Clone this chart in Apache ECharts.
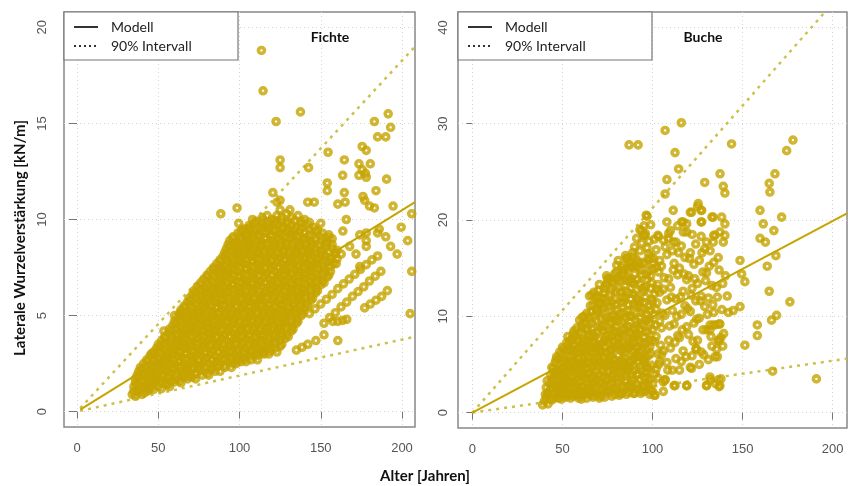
<!DOCTYPE html>
<html><head><meta charset="utf-8">
<script src="https://cdn.jsdelivr.net/npm/echarts@6/dist/echarts.min.js"></script>
<style>html,body{margin:0;padding:0;background:#fff}#c{width:848px;height:486px}</style>
</head><body><div id="c"></div>
<script>
// ---- tick labels ----
const xTicks = [0, 50, 100, 150, 200];
const fichteYTicks = [0, 5, 10, 15, 20];
const bucheYTicks = [0, 10, 20, 30, 40];
const panelTitles = ['Fichte', 'Buche'];
const legendLabels = ['Modell', '90% Intervall'];

// ---- Fichte: dense core of the point cloud (Alter, kN/m) ----
const fichteDense = [
[34,0.9],[36,0.8],[38,1.0],[40,0.9],[42,1.0],[37,1.1],[44,1.1],
[35,1.3],[37,1.4],[40,1.3],[42,1.4],[45,1.2],[47,1.4],[50,1.3],[52,1.2],[55,1.4],[57,1.3],[46,1.5],
[36,1.7],[38,1.8],[41,1.6],[43,1.8],[46,1.7],[48,1.8],[51,1.6],[53,1.7],[56,1.8],[58,1.6],[61,1.7],[63,1.6],[66,1.8],[68,1.7],[71,1.8],[73,1.7],
[38,2.1],[40,2.2],[43,2.0],[45,2.2],[48,2.1],[50,2.0],[53,2.2],[55,2.1],[58,2.0],[60,2.2],[63,2.1],[65,2.0],[68,2.2],[70,2.1],[73,2.0],[75,2.2],[78,2.1],[80,2.0],[83,2.2],[85,2.1],[88,2.1],
[41,2.5],[43,2.6],[46,2.4],[48,2.6],[51,2.5],[53,2.4],[56,2.6],[58,2.5],[61,2.4],[63,2.6],[66,2.5],[68,2.4],[71,2.6],[73,2.5],[76,2.4],[78,2.6],[81,2.5],[83,2.4],[86,2.6],[88,2.5],[91,2.4],[93,2.6],[96,2.5],[98,2.5],[101,2.6],[104,2.6],
[45,2.9],[47,3.0],[50,2.8],[52,3.0],[55,2.9],[57,2.8],[60,3.0],[62,2.9],[65,2.8],[67,3.0],[70,2.9],[72,2.8],[75,3.0],[77,2.9],[80,2.8],[82,3.0],[85,2.9],[87,2.8],[90,3.0],[92,2.9],[95,2.8],[97,3.0],[100,2.9],[102,2.8],[105,3.0],[107,2.9],[110,2.9],[112,3.0],[115,3.0],[118,3.0],
[49,3.3],[51,3.4],[54,3.2],[56,3.4],[59,3.3],[61,3.2],[64,3.4],[66,3.3],[69,3.2],[71,3.4],[74,3.3],[76,3.2],[79,3.4],[81,3.3],[84,3.2],[86,3.4],[89,3.3],[91,3.2],[94,3.4],[96,3.3],[99,3.2],[101,3.4],[104,3.3],[106,3.2],[109,3.4],[111,3.3],[114,3.2],[116,3.4],[119,3.3],[122,3.3],[125,3.4],
[52,3.7],[54,3.8],[57,3.6],[59,3.8],[62,3.7],[64,3.6],[67,3.8],[69,3.7],[72,3.6],[74,3.8],[77,3.7],[79,3.6],[82,3.8],[84,3.7],[87,3.6],[89,3.8],[92,3.7],[94,3.6],[97,3.8],[99,3.7],[102,3.6],[104,3.8],[107,3.7],[109,3.6],[112,3.8],[114,3.7],[117,3.6],[119,3.8],[122,3.7],[125,3.7],[128,3.8],
[56,4.1],[58,4.2],[61,4.0],[63,4.2],[66,4.1],[68,4.0],[71,4.2],[73,4.1],[76,4.0],[78,4.2],[81,4.1],[83,4.0],[86,4.2],[88,4.1],[91,4.0],[93,4.2],[96,4.1],[98,4.0],[101,4.2],[103,4.1],[106,4.0],[108,4.2],[111,4.1],[113,4.0],[116,4.2],[118,4.1],[121,4.0],[123,4.2],[126,4.1],[129,4.0],[132,4.2],
[59,4.5],[61,4.6],[64,4.4],[66,4.6],[69,4.5],[71,4.4],[74,4.6],[76,4.5],[79,4.4],[81,4.6],[84,4.5],[86,4.4],[89,4.6],[91,4.5],[94,4.4],[96,4.6],[99,4.5],[101,4.4],[104,4.6],[106,4.5],[109,4.4],[111,4.6],[114,4.5],[116,4.4],[119,4.6],[121,4.5],[124,4.4],[126,4.6],[129,4.5],[132,4.4],[135,4.6],
[62,4.9],[64,5.0],[67,4.8],[69,5.0],[72,4.9],[74,4.8],[77,5.0],[79,4.9],[82,4.8],[84,5.0],[87,4.9],[89,4.8],[92,5.0],[94,4.9],[97,4.8],[99,5.0],[102,4.9],[104,4.8],[107,5.0],[109,4.9],[112,4.8],[114,5.0],[117,4.9],[119,4.8],[122,5.0],[124,4.9],[127,4.8],[129,5.0],[132,4.9],[135,4.8],[138,5.0],
[64,5.3],[66,5.4],[69,5.2],[71,5.4],[74,5.3],[76,5.2],[79,5.4],[81,5.3],[84,5.2],[86,5.4],[89,5.3],[91,5.2],[94,5.4],[96,5.3],[99,5.2],[101,5.4],[104,5.3],[106,5.2],[109,5.4],[111,5.3],[114,5.2],[116,5.4],[119,5.3],[121,5.2],[124,5.4],[126,5.3],[129,5.2],[131,5.4],[134,5.3],[137,5.2],[140,5.4],
[68,5.7],[70,5.8],[73,5.6],[75,5.8],[78,5.7],[80,5.6],[83,5.8],[85,5.7],[88,5.6],[90,5.8],[93,5.7],[95,5.6],[98,5.8],[100,5.7],[103,5.6],[105,5.8],[108,5.7],[110,5.6],[113,5.8],[115,5.7],[118,5.6],[120,5.8],[123,5.7],[125,5.6],[128,5.8],[130,5.7],[133,5.6],[135,5.8],[138,5.7],[141,5.6],[144,5.8],
[71,6.1],[73,6.2],[76,6.0],[78,6.2],[81,6.1],[83,6.0],[86,6.2],[88,6.1],[91,6.0],[93,6.2],[96,6.1],[98,6.0],[101,6.2],[103,6.1],[106,6.0],[108,6.2],[111,6.1],[113,6.0],[116,6.2],[118,6.1],[121,6.0],[123,6.2],[126,6.1],[128,6.0],[131,6.2],[133,6.1],[136,6.0],[138,6.2],[141,6.1],[144,6.0],[147,6.2],
[74,6.5],[76,6.6],[79,6.4],[81,6.6],[84,6.5],[86,6.4],[89,6.6],[91,6.5],[94,6.4],[96,6.6],[99,6.5],[101,6.4],[104,6.6],[106,6.5],[109,6.4],[111,6.6],[114,6.5],[116,6.4],[119,6.6],[121,6.5],[124,6.4],[126,6.6],[129,6.5],[131,6.4],[134,6.6],[136,6.5],[139,6.4],[141,6.6],[144,6.5],[147,6.4],[150,6.6],
[78,6.9],[80,7.0],[83,6.8],[85,7.0],[88,6.9],[90,6.8],[93,7.0],[95,6.9],[98,6.8],[100,7.0],[103,6.9],[105,6.8],[108,7.0],[110,6.9],[113,6.8],[115,7.0],[118,6.9],[120,6.8],[123,7.0],[125,6.9],[128,6.8],[130,7.0],[133,6.9],[135,6.8],[138,7.0],[140,6.9],[143,6.8],[145,7.0],[148,6.9],[151,6.8],[154,7.0],
[82,7.3],[84,7.4],[87,7.2],[89,7.4],[92,7.3],[94,7.2],[97,7.4],[99,7.3],[102,7.2],[104,7.4],[107,7.3],[109,7.2],[112,7.4],[114,7.3],[117,7.2],[119,7.4],[122,7.3],[124,7.2],[127,7.4],[129,7.3],[132,7.2],[134,7.4],[137,7.3],[139,7.2],[142,7.4],[144,7.3],[147,7.2],[149,7.4],[152,7.3],[156,7.3],
[86,7.7],[88,7.8],[91,7.6],[93,7.8],[96,7.7],[98,7.6],[101,7.8],[103,7.7],[106,7.6],[108,7.8],[111,7.7],[113,7.6],[116,7.8],[118,7.7],[121,7.6],[123,7.8],[126,7.7],[128,7.6],[131,7.8],[133,7.7],[136,7.6],[138,7.8],[141,7.7],[143,7.6],[146,7.8],[148,7.7],[151,7.6],[154,7.8],[158,7.7],
[90,8.1],[92,8.2],[95,8.0],[97,8.2],[100,8.1],[102,8.0],[105,8.2],[107,8.1],[110,8.0],[112,8.2],[115,8.1],[117,8.0],[120,8.2],[122,8.1],[125,8.0],[127,8.2],[130,8.1],[132,8.0],[135,8.2],[137,8.1],[140,8.0],[142,8.2],[145,8.1],[147,8.0],[150,8.2],[153,8.1],[156,8.0],[159,8.2],
[92,8.5],[94,8.6],[97,8.4],[99,8.6],[102,8.5],[104,8.4],[107,8.6],[109,8.5],[112,8.4],[114,8.6],[117,8.5],[119,8.4],[122,8.6],[124,8.5],[127,8.4],[129,8.6],[132,8.5],[134,8.4],[137,8.6],[139,8.5],[142,8.4],[144,8.6],[147,8.5],[150,8.4],[153,8.6],[157,8.5],[160,8.4],
[94,8.9],[96,9.0],[99,8.8],[101,9.0],[104,8.9],[106,8.8],[109,9.0],[111,8.9],[114,8.8],[116,9.0],[119,8.9],[121,8.8],[124,9.0],[126,8.9],[129,8.8],[131,9.0],[134,8.9],[136,8.8],[139,9.0],[141,8.9],[144,8.8],[147,9.0],[150,8.9],[154,8.8],[157,9.0],
[99,9.3],[101,9.4],[104,9.2],[106,9.4],[109,9.3],[111,9.2],[114,9.4],[116,9.3],[119,9.2],[121,9.4],[124,9.3],[126,9.2],[129,9.4],[131,9.3],[134,9.2],[137,9.4],[140,9.3],[143,9.2],[147,9.4],[151,9.3],[155,9.2],
[106,9.7],[109,9.8],[112,9.6],[114,9.8],[117,9.7],[119,9.6],[122,9.8],[124,9.7],[127,9.6],[129,9.8],[132,9.7],[135,9.6],[138,9.8],[142,9.7],[146,9.6],[150,9.8],
[114,10.1],[117,10.2],[120,10.0],[123,10.2],[126,10.1],[129,10.3],[132,10.1],[136,10.2],[140,10.0],[125,10.5],[131,10.5]
];

// ---- Fichte: further core points between the rows above ----
const fichteCoreB = [
[35,1.05],[39,1.15],[43,1.2],[47,1.15],
[36,1.5],[40,1.55],[44,1.45],[48,1.55],[52,1.5],[56,1.45],[60,1.55],[64,1.5],
[37,1.9],[41,1.95],[45,1.85],[49,1.95],[53,1.9],[57,1.85],[61,1.95],[65,1.9],[69,1.85],[73,1.95],[77,1.9],[81,1.9],
[39,2.3],[43,2.35],[47,2.25],[51,2.35],[55,2.3],[59,2.25],[63,2.35],[67,2.3],[71,2.25],[75,2.35],[79,2.3],[83,2.25],[87,2.35],[91,2.3],[95,2.3],
[43,2.7],[47,2.75],[51,2.65],[55,2.75],[59,2.7],[63,2.65],[67,2.75],[71,2.7],[75,2.65],[79,2.75],[83,2.7],[87,2.65],[91,2.75],[95,2.7],[99,2.65],[103,2.75],[107,2.7],[111,2.7],
[47,3.1],[51,3.15],[55,3.05],[59,3.15],[63,3.1],[67,3.05],[71,3.15],[75,3.1],[79,3.05],[83,3.15],[87,3.1],[91,3.05],[95,3.15],[99,3.1],[103,3.05],[107,3.15],[111,3.1],[115,3.05],[119,3.15],[123,3.1],
[50,3.5],[54,3.55],[58,3.45],[62,3.55],[66,3.5],[70,3.45],[74,3.55],[78,3.5],[82,3.45],[86,3.55],[90,3.5],[94,3.45],[98,3.55],[102,3.5],[106,3.45],[110,3.55],[114,3.5],[118,3.45],[122,3.55],[126,3.5],
[54,3.9],[58,3.95],[62,3.85],[66,3.95],[70,3.9],[74,3.85],[78,3.95],[82,3.9],[86,3.85],[90,3.95],[94,3.9],[98,3.85],[102,3.95],[106,3.9],[110,3.85],[114,3.95],[118,3.9],[122,3.85],[126,3.95],[130,3.9],
[57,4.3],[61,4.35],[65,4.25],[69,4.35],[73,4.3],[77,4.25],[81,4.35],[85,4.3],[89,4.25],[93,4.35],[97,4.3],[101,4.25],[105,4.35],[109,4.3],[113,4.25],[117,4.35],[121,4.3],[125,4.25],[129,4.35],[133,4.3],
[60,4.7],[64,4.75],[68,4.65],[72,4.75],[76,4.7],[80,4.65],[84,4.75],[88,4.7],[92,4.65],[96,4.75],[100,4.7],[104,4.65],[108,4.75],[112,4.7],[116,4.65],[120,4.75],[124,4.7],[128,4.65],[132,4.75],[136,4.7],
[63,5.1],[67,5.15],[71,5.05],[75,5.15],[79,5.1],[83,5.05],[87,5.15],[91,5.1],[95,5.05],[99,5.15],[103,5.1],[107,5.05],[111,5.15],[115,5.1],[119,5.05],[123,5.15],[127,5.1],[131,5.05],[135,5.15],[139,5.1],
[66,5.5],[70,5.55],[74,5.45],[78,5.55],[82,5.5],[86,5.45],[90,5.55],[94,5.5],[98,5.45],[102,5.55],[106,5.5],[110,5.45],[114,5.55],[118,5.5],[122,5.45],[126,5.55],[130,5.5],[134,5.45],[138,5.55],[142,5.5],
[69,5.9],[73,5.95],[77,5.85],[81,5.95],[85,5.9],[89,5.85],[93,5.95],[97,5.9],[101,5.85],[105,5.95],[109,5.9],[113,5.85],[117,5.95],[121,5.9],[125,5.85],[129,5.95],[133,5.9],[137,5.85],[141,5.95],[145,5.9],
[72,6.3],[76,6.35],[80,6.25],[84,6.35],[88,6.3],[92,6.25],[96,6.35],[100,6.3],[104,6.25],[108,6.35],[112,6.3],[116,6.25],[120,6.35],[124,6.3],[128,6.25],[132,6.35],[136,6.3],[140,6.25],[144,6.35],[148,6.3],
[76,6.7],[80,6.75],[84,6.65],[88,6.75],[92,6.7],[96,6.65],[100,6.75],[104,6.7],[108,6.65],[112,6.75],[116,6.7],[120,6.65],[124,6.75],[128,6.7],[132,6.65],[136,6.75],[140,6.7],[144,6.65],[148,6.75],[152,6.7],
[80,7.1],[84,7.15],[88,7.05],[92,7.15],[96,7.1],[100,7.05],[104,7.15],[108,7.1],[112,7.05],[116,7.15],[120,7.1],[124,7.05],[128,7.15],[132,7.1],[136,7.05],[140,7.15],[144,7.1],[148,7.05],[152,7.15],[155,7.1],
[84,7.5],[88,7.55],[92,7.45],[96,7.55],[100,7.5],[104,7.45],[108,7.55],[112,7.5],[116,7.45],[120,7.55],[124,7.5],[128,7.45],[132,7.55],[136,7.5],[140,7.45],[144,7.55],[148,7.5],[152,7.45],[156,7.55],
[88,7.9],[92,7.95],[96,7.85],[100,7.95],[104,7.9],[108,7.85],[112,7.95],[116,7.9],[120,7.85],[124,7.95],[128,7.9],[132,7.85],[136,7.95],[140,7.9],[144,7.85],[148,7.95],[152,7.9],[156,7.85],[160,7.95],
[91,8.3],[95,8.35],[99,8.25],[103,8.35],[107,8.3],[111,8.25],[115,8.35],[119,8.3],[123,8.25],[127,8.35],[131,8.3],[135,8.25],[139,8.35],[143,8.3],[147,8.25],[151,8.35],[155,8.3],[159,8.25],
[93,8.7],[97,8.75],[101,8.65],[105,8.75],[109,8.7],[113,8.65],[117,8.75],[121,8.7],[125,8.65],[129,8.75],[133,8.7],[137,8.65],[141,8.75],[145,8.7],[149,8.65],[153,8.75],[157,8.7],
[96,9.1],[100,9.15],[104,9.05],[108,9.15],[112,9.1],[116,9.05],[120,9.15],[124,9.1],[128,9.05],[132,9.15],[136,9.1],[140,9.05],[145,9.15],[150,9.1],[155,9.05],
[102,9.5],[106,9.55],[110,9.45],[114,9.55],[118,9.5],[122,9.45],[126,9.55],[130,9.5],[134,9.45],[138,9.55],[143,9.5],[148,9.45],
[110,9.9],[114,9.95],[118,9.85],[122,9.95],[126,9.9],[130,9.85],[134,9.95],[138,9.9],[143,9.85]
];

// ---- Fichte: outlying points and diagonal streaks ----
const fichteScatter = [
[113.5,18.8],[114.5,16.7],[122.5,15.1],[137.5,15.6],[183,15.1],[191.5,15.5],[193,14.8],[185,14.3],[190,14.3],
[175.5,13.8],[178,13.6],[154.5,13.5],[125,13.1],[125,12.7],[142.5,12.7],[164.5,13.1],[173.5,12.9],[175.5,12.6],
[177.5,12.4],[180.5,12.9],[173.5,12.3],[178,12.2],[163.5,12.3],[190.5,12.1],[154,11.9],[154,11.5],[164.5,11.4],
[120.5,11.4],[123,10.9],[125,11.0],[184,11.5],[177,11.0],[180,10.7],[183,10.6],[176,11.2],[88.5,10.3],[98.5,10.6],
[99.5,9.8],[108,10.0],[104,9.5],[105,9.2],[142,10.9],[146,10.9],[160.5,10.8],[165,10.9],[194.5,10.7],[206,10.3],
[199.5,9.6],[203.5,8.9],[186,9.5],[190,9.1],[185,9.3],[178,9.3],[178,8.9],[178,8.6],[193,8.6],[197,8.2],[206,7.3],
[205,5.1],[165.7,10.0],[163.6,9.4],[174,9.2],[167.8,8.6],[162.6,8.2],[171.7,8.2],[174,7.55],[159.5,7.7],
[45.7,3.0],[53.5,4.2],[60,5.0],[64.2,5.2],[86.7,7.4],[91.9,7.9],
[143,5.1],[146.5,5.35],[150,5.6],[153.5,5.85],[157,6.1],[160.5,6.4],[164,6.65],[167.5,6.9],[171,7.15],[174.5,7.4],[178,7.65],[181.5,7.9],[185,8.1],
[152,4.6],[155.5,4.9],[159,5.15],[162.5,5.45],[166,5.7],[169.5,6.0],[173,6.25],[176.5,6.5],[180,6.8],[183.5,7.05],[187,7.3],
[135,3.2],[138.5,3.35],[142,3.5],[147,3.7],[152,4.0],[160.5,3.7],
[157.5,4.7],[160.5,4.7],[163.5,4.75],[166,4.8],
[177,5.4],[180.5,5.6],[184,5.8],[187.5,6.0],[191,6.3]
];

// ---- Buche: main cloud ----
const bucheDense = [
[39,0.8],[40,1.2],[41,1.6],[42,0.9],[42,2.1],[43,1.4],[41,2.6],[43,3.0],
[44,1.3],[45,2.0],[46,2.8],[44,3.4],[47,1.6],[46,3.9],[45,4.6],[47,2.4],[46,5.2],[48,4.2],
[48,1.5],[49,2.2],[50,3.1],[49,3.8],[51,1.9],[50,4.6],[48,5.5],[51,2.7],[49,6.0],[51,5.2],[50,6.8],[51,3.6],
[52,1.6],[53,2.4],[54,3.3],[52,4.2],[55,1.9],[53,5.0],[54,5.8],[52,6.5],[55,4.4],[54,7.2],[53,7.9],[55,2.8],[55,6.6],
[56,1.7],[57,2.6],[58,3.5],[56,4.3],[59,1.5],[57,5.4],[58,6.2],[56,7.0],[59,4.8],[57,8.0],[58,8.8],[59,7.4],[56,3.1],[59,2.3],
[60,1.8],[61,2.7],[62,3.8],[60,4.7],[63,2.1],[61,6.6],[62,7.4],[60,8.3],[63,5.3],[61,9.2],[62,10.0],[63,8.7],[60,3.3],[63,6.2],[61,9.9],
[64,1.9],[65,2.9],[66,3.6],[64,4.5],[67,1.6],[65,6.9],[66,7.8],[64,8.6],[67,5.6],[65,9.6],[66,10.5],[67,11.2],[64,3.1],[67,8.2],[65,12.1],[66,6.2],
[68,2.0],[69,2.8],[70,3.9],[68,4.8],[71,1.7],[69,5.8],[70,7.0],[68,7.9],[71,8.8],[69,9.5],[70,10.4],[71,11.3],[68,12.0],[70,12.7],[71,6.4],[69,3.4],
[72,1.8],[73,2.7],[74,3.6],[72,4.4],[75,2.2],[73,5.6],[74,6.3],[72,7.2],[75,8.1],[73,9.0],[74,9.8],[72,10.6],[75,11.5],[73,12.4],[74,13.2],[72,11.9],[75,5.0],[75,13.9],
[76,2.1],[77,3.0],[78,3.9],[76,4.9],[79,1.9],[77,5.8],[78,6.7],[76,7.6],[79,8.4],[77,9.3],[78,10.1],[76,11.0],[79,11.8],[77,12.7],[78,13.5],[76,13.9],[79,14.4],[78,4.4],
[80,2.3],[81,3.2],[82,4.1],[80,5.0],[83,2.0],[81,6.0],[82,6.9],[80,7.8],[83,8.6],[81,9.5],[82,10.3],[80,11.2],[83,12.0],[81,12.9],[82,13.7],[80,14.6],[83,15.2],[81,15.8],[83,5.4],
[84,2.4],[85,3.3],[86,4.2],[84,5.2],[87,2.1],[85,6.2],[86,7.1],[84,8.0],[87,8.9],[85,9.8],[86,10.6],[84,11.5],[87,12.4],[85,13.2],[86,14.1],[84,14.9],[87,15.6],[85,16.3],[86,16.0],[87,4.8],
[88,2.6],[89,3.5],[90,4.4],[88,5.4],[91,2.4],[89,6.4],[90,7.3],[88,8.2],[91,9.1],[89,10.0],[90,10.9],[88,11.8],[91,12.7],[89,13.5],[90,14.4],[88,15.2],[91,15.9],[89,16.6],[90,17.2],[91,6.0],[88,13.9],
[92,2.5],[93,3.4],[94,4.4],[92,5.3],[95,2.8],[93,6.3],[94,7.2],[92,8.1],[95,9.0],[93,9.9],[94,10.8],[92,11.7],[95,12.6],[93,13.4],[94,14.3],[92,15.1],[95,15.6],[93,16.8],[94,17.6],[95,18.4],[93,19.0],[92,11.0],
[96,2.7],[97,3.7],[98,4.6],[96,5.6],[99,2.3],[97,6.6],[98,7.5],[96,8.4],[99,9.3],[97,10.2],[98,11.1],[96,12.0],[99,12.9],[97,13.8],[98,14.7],[96,15.5],[99,16.2],[97,17.1],[98,17.8],[96,18.6],[99,19.5],[97,20.4],
[100,3.0],[101,1.8],[102,4.5],[103,6.1],[101,7.4],[100,8.6],[104,9.5],[102,10.7],[101,12.3],[103,13.3],[100,14.9],[104,15.8],[102,16.9],[101,18.0],[103,18.4],[104,5.3],[100,11.5],
[106,3.2],[107,3.4],[108,5.2],[106,6.4],[109,7.5],[105,8.8],[107,10.1],[108,11.7],[106,12.8],[109,13.9],[105,15.2],[108,16.4],[107,17.2],[109,18.6],[106,17.9],[108,19.8],
[112,2.8],[111,4.4],[113,5.6],[110,6.7],[114,8.0],[112,9.2],[111,10.6],[113,11.8],[110,13.0],[114,14.3],[112,15.5],[111,16.8],[113,17.7],[110,18.9],[114,19.4],
[115,4.4],[116,5.3],[117,6.4],[115,7.8],[119,8.9],[116,10.2],[118,11.1],[117,12.6],[119,13.8],[115,15.0],[118,16.1],[116,17.3],[119,18.75],[117,19.8],[119,2.8],
[121,4.7],[122,5.9],[124,6.6],[120,8.1],[123,9.3],[121,10.5],[124,11.6],[122,12.9],[120,14.2],[123,15.4],[121,16.6],[124,17.5],[122,18.5],[121,20.8],
[126,5.0],[127,6.3],[125,7.5],[128,8.6],[126,9.8],[129,11.0],[127,12.1],[125,13.4],[128,14.6],[126,15.8],[129,17.0],[127,18.3],[125,21.4],[127,19.8],[127,21.0],
[130,2.8],[132,3.4],[131,5.5],[133,6.9],[130,8.6],[132,9.1],[134,10.4],[131,11.9],[133,13.2],[130,14.5],[134,15.6],[132,16.8],[130,17.7],[134,18.4],[133,20.3],
[135,3.0],[137,2.7],[138,3.5],[136,5.8],[137,7.5],[139,6.9],[135,9.1],[137,9.2],[138,7.8],[136,12.0],[139,13.4],[137,14.8],
[42,1.9],[44,2.6],[45,3.6],[47,3.2],[48,2.8],[49,4.5],[50,1.9],[51,4.2],[52,3.0],[53,1.9],[54,4.8],[55,3.7],[56,5.8],[57,1.9],[57,4.0],[58,5.0],[59,3.2],[60,2.5],[60,6.3],[61,4.1],[62,5.6],[62,1.9],[63,4.6],[64,7.3],[65,4.0],[65,5.2],[66,2.2],[67,3.1],[67,7.0],[68,6.2],[69,1.9],[69,4.3],[70,5.4],[71,3.0],[72,6.3],[72,9.0],[73,4.2],[74,2.2],[74,7.9],[75,3.4],[76,5.6],[76,9.5],[77,6.5],[78,2.5],[78,8.6],[79,5.0],[80,3.6],[80,9.9],[81,7.1],[82,2.0],[82,8.2],[83,4.3],[84,6.6],[84,10.4],[85,4.6],[86,2.7],[86,9.0],[87,6.8],[88,3.9],[88,10.0],[89,7.7],[90,2.0],[90,5.6],[91,8.3],[92,4.0],[92,6.8],[93,11.5],[94,2.2],[94,9.2],[95,5.5],[96,7.3],[96,13.0],[97,4.7],[98,9.7],[99,6.1],[99,14.2],[100,2.2],[101,10.2],[102,7.9],[103,3.6],[104,12.5],[105,6.0],[106,2.2]
];

// ---- Buche: further cloud points ----
const bucheCoreB = [
[40.5,1.9],[43.5,2.4],[45.5,1.5],[47.5,2.0],[49.5,1.4],[50.5,2.6],[52.5,2.0],[54.5,1.5],[55.5,2.4],[58.5,1.9],[60.5,1.4],[61.5,2.2],[63.5,1.5],[64.5,2.5],[66.5,1.8],[68.5,2.4],[70.5,1.5],[72.5,2.4],[73.5,1.6],[75.5,2.8],[77.5,1.7],[79.5,2.6],[81.5,1.8],[83.5,2.7],[85.5,1.9],[87.5,2.9],[89.5,2.0],[91.5,2.9],[93.5,2.0],[95.5,2.2],[97.5,2.9],[98.5,1.9],
[41.5,3.3],[43.5,3.9],[45.5,4.2],[47.5,4.5],[48.5,3.4],[50.5,3.8],[52.5,3.6],[53.5,4.5],[55.5,3.2],[56.5,4.8],[58.5,4.2],[60.5,3.8],[61.5,4.9],[63.5,3.5],[64.5,4.1],[66.5,4.8],[67.5,3.8],[69.5,4.9],[70.5,3.2],[72.5,3.7],[73.5,4.9],[75.5,4.3],[77.5,3.5],[78.5,4.8],[80.5,4.3],[82.5,3.4],[83.5,4.9],[85.5,3.8],[86.5,4.6],[88.5,3.2],[89.5,4.8],[91.5,3.9],[93.5,4.8],[95.5,3.6],[96.5,4.2],[98.5,3.4],[99.5,4.9],
[46.5,5.5],[48.5,6.3],[50.5,5.6],[52.5,5.4],[53.5,6.4],[55.5,5.3],[56.5,6.5],[58.5,5.7],[59.5,6.7],[61.5,5.3],[62.5,6.5],[64.5,5.8],[65.5,6.6],[67.5,5.2],[68.5,6.8],[70.5,6.2],[71.5,5.2],[73.5,6.8],[74.5,5.4],[76.5,6.4],[78.5,5.5],[79.5,6.9],[81.5,5.2],[82.5,6.4],[84.5,5.7],[86.5,6.6],[87.5,5.2],[89.5,5.7],[90.5,6.7],[92.5,5.8],[94.5,6.5],[95.5,5.2],[97.5,5.9],[98.5,6.8],
[52.5,7.3],[55.5,7.7],[56.5,8.5],[58.5,7.5],[60.5,7.2],[61.5,8.2],[63.5,7.5],[64.5,8.0],[66.5,8.7],[67.5,7.3],[69.5,8.4],[70.5,7.6],[72.5,8.5],[73.5,7.5],[75.5,7.3],[76.5,8.5],[78.5,7.4],[79.5,8.9],[81.5,7.8],[83.5,7.2],[84.5,8.7],[86.5,7.9],[87.5,7.2],[89.5,8.7],[90.5,8.0],[92.5,7.4],[93.5,8.6],[95.5,7.8],[97.5,8.4],[99.5,7.5],
[59.5,9.6],[62.5,9.3],[63.5,10.3],[65.5,11.1],[66.5,9.3],[68.5,10.2],[69.5,11.4],[71.5,9.7],[72.5,10.9],[73.5,11.8],[75.5,9.9],[76.5,10.6],[77.5,11.5],[79.5,9.6],[80.5,10.7],[82.5,11.4],[83.5,9.5],[84.5,11.9],[86.5,11.2],[87.5,10.0],[89.5,11.2],[90.5,9.6],[91.5,11.9],[93.5,10.4],[95.5,11.4],[96.5,9.6],[98.5,10.6],[99.5,11.8],[101.5,9.1],[102.5,11.4],
[67.5,12.5],[70.5,13.3],[73.5,12.9],[74.5,14.2],[76.5,12.3],[77.5,13.6],[79.5,12.6],[80.5,13.8],[82.5,12.5],[83.5,14.7],[85.5,12.6],[86.5,15.0],[87.5,13.6],[89.5,12.3],[90.5,15.3],[91.5,13.8],[93.5,14.8],[94.5,12.9],[96.5,14.3],[97.5,15.9],[99.5,13.5],[100.5,15.5],[102.5,12.8],[103.5,14.6],
[101.5,4.0],[103.5,5.0],[104.5,7.0],[105.5,10.3],[106.5,14.0],[108.5,4.4],[109.5,9.0],[110.5,12.0],[111.5,14.8],[112.5,7.3],[113.5,10.0],[114.5,16.6],[115.5,12.0],[116.5,8.6],[117.5,14.4],[118.5,5.8],[119.5,10.8],[120.5,16.0],[121.5,12.2],[122.5,7.4],[123.5,13.9],[124.5,9.7],[126.5,11.6],[127.5,16.6],[128.5,6.0],[129.5,13.7],[130.5,10.2],[131.5,15.2],[132.5,7.9],[133.5,11.2],[135.5,13.0],[136.5,16.1],[138.5,10.7],[139.5,8.2],[140.5,14.2],[141.5,12.1]
];

// ---- Buche: outlying points ----
const bucheScatter = [
[87,27.8],[92,27.8],[107,29.3],[116,30.1],[112.5,27.0],[114.5,25.3],[108,24.2],[107,22.7],[111.5,21.0],[96.5,20.5],
[129,23.9],[137.5,24.8],[139.3,23.5],[140.2,22.8],[143.9,27.9],[174.5,27.2],[178,28.3],[168,24.8],[164.8,23.8],[165.2,22.9],
[159.7,21.0],[161.5,19.6],[167.4,18.9],[159.7,18.1],[171.7,20.3],[162.7,17.7],[168.5,16.3],[163.7,15.2],[164.8,12.6],[176.3,11.5],
[168.9,10.1],[166.1,9.6],[158.2,9.1],[158.2,8.0],[151.3,7.0],[148.6,15.8],[149.5,14.4],[151.3,13.6],[166.7,4.3],[191,3.5],
[121.7,4.6],[124.5,6.6],[101.4,1.8],[107,3.4],[112.5,2.8],[119,2.8],[131.9,3.7],[136.5,3.4],[137.4,2.8],[130,2.8],
[142.1,10.4],[144.8,10.6],[148.6,11.0],[134.7,5.8],[135.6,6.6],[136.5,7.5],[131.9,8.6],[133.7,9.1],[137.4,9.2],
[121.7,20.8],[125.4,21.7],[127.3,21.0],[116.2,19.8],[127.3,19.8],[133.7,20.3],[138.4,20.3],[140.2,19.6],[137.4,18.75],
[140.2,18.4],[139.3,17.7],[134.7,18.4],[133.7,17.7],[103.2,18.3],[108.8,18.1],[111.5,17.7],[117.1,18.75],[119,19.6],
[95.3,19.4],[94,18.9],[91.2,18.1],[95.8,18.4],[85.7,16],[89.3,16.2],[92.1,15.6],[88.5,15.1],[97.7,16.5],[100.5,16],
[102.3,15.1],[80.1,15.3],[74.6,13.4],[76.4,13.9],[81,14.1],[83.8,14.4],[85.7,13.7],[89.3,13.4],[66.3,12.2],[69.9,12],
[70.9,11.3],[69,10.6],[64.4,9.9],[60.7,8.9],[56,8.2],[54.2,7.5],[50.5,6.6],[46.8,5.8],[44.1,4.7]
];

// ---- model and 90% interval lines (Alter, kN/m) ----
const fichteModell = [[2, 0.1], [208, 10.9]];
const fichteOben = [[2, 0.18], [208, 19.0]];
const fichteUnten = [[2, 0.04], [208, 3.9]];
const bucheModell = [[0, 0], [208, 20.7]];
const bucheOben = [[0, 0], [208, 44.2]];
const bucheUnten = [[0, 0], [208, 5.6]];

const GOLD = '#C6A400';
const DOT = '#CDC04C';
const LABEL_FONT = "'Liberation Sans Narrow','Liberation Sans',Arial,sans-serif";
const TITLE_FONT = "Lato,'Open Sans',sans-serif";

const chart = echarts.init(document.getElementById('c'), null, {renderer: 'canvas'});

const grids = [
  {left: 64, top: 12, width: 351, height: 415},
  {left: 458, top: 12, width: 389, height: 416}
];

function xAx(i) {
  return {
    gridIndex: i, type: 'value', min: -8, max: 208,
    axisLine: {show: false},
    axisTick: {show: true, customValues: xTicks, length: 7, lineStyle: {color: '#777', width: 1}},
    axisLabel: {customValues: xTicks, margin: 15, color: '#555', fontSize: 13, fontFamily: LABEL_FONT},
    splitLine: {show: true, lineStyle: {color: '#d4d4d4', type: [1, 3], width: 1}}
  };
}
function yAx(i, min, max, ticks, margin, tlen) {
  return {
    gridIndex: i, type: 'value', min: min, max: max,
    axisLine: {show: false},
    axisTick: {show: true, customValues: ticks, length: tlen, lineStyle: {color: '#777', width: 1}},
    axisLabel: {customValues: ticks, rotate: 90, margin: margin, color: '#555', fontSize: 13, fontFamily: LABEL_FONT},
    splitLine: {show: true, lineStyle: {color: '#d4d4d4', type: [1, 3], width: 1}}
  };
}

function scatter(i, data) {
  return {
    type: 'scatter', xAxisIndex: i, yAxisIndex: i, data: data,
    symbol: 'circle', symbolSize: 6, silent: true, z: 3, large: false,
    itemStyle: {color: 'rgba(0,0,0,0)', borderColor: GOLD, borderWidth: 3.6}
  };
}
function line(i, data, dotted) {
  return {
    type: 'line', xAxisIndex: i, yAxisIndex: i, data: data, showSymbol: false, silent: true, z: 2,
    lineStyle: dotted ? {color: DOT, width: 2.5, type: [3, 5]} : {color: GOLD, width: 2}
  };
}

function legendBox(x0, x1) {
  return [
    {type: 'rect', shape: {x: x0, y: 12, width: x1 - x0, height: 48}, style: {fill: '#fff', stroke: '#777', lineWidth: 1.2}, z: 10},
    {type: 'line', shape: {x1: x0 + 10, y1: 27, x2: x0 + 34, y2: 27}, style: {stroke: '#333', lineWidth: 2}, z: 11},
    {type: 'line', shape: {x1: x0 + 10, y1: 46, x2: x0 + 34, y2: 46}, style: {stroke: '#333', lineWidth: 2, lineDash: [2, 3]}, z: 11},
    {type: 'text', x: x0 + 47, y: 27, style: {text: legendLabels[0], font: '14px ' + TITLE_FONT, fill: '#222', verticalAlign: 'middle'}, z: 11},
    {type: 'text', x: x0 + 47, y: 46, style: {text: legendLabels[1], font: '14px ' + TITLE_FONT, fill: '#222', verticalAlign: 'middle'}, z: 11}
  ];
}

chart.setOption({
  animation: false,
  backgroundColor: '#fff',
  grid: grids.map(g => Object.assign({show: true, borderColor: '#888', borderWidth: 1.5, backgroundColor: 'rgba(0,0,0,0)'}, g)),
  xAxis: [xAx(0), xAx(1)],
  yAxis: [yAx(0, -0.8, 20.8, fichteYTicks, 15, 8), yAx(1, -1.6, 41.6, bucheYTicks, 8, 6)],
  series: [
    line(0, fichteOben, true), line(0, fichteUnten, true), line(0, fichteModell, false),
    scatter(0, fichteDense.concat(fichteCoreB, fichteScatter)),
    line(1, bucheOben, true), line(1, bucheUnten, true), line(1, bucheModell, false),
    scatter(1, bucheDense.concat(bucheCoreB, bucheScatter))
  ],
  graphic: [].concat(
    legendBox(64, 238),
    legendBox(458, 652),
    [
      {type: 'text', x: 330, y: 37, style: {text: panelTitles[0], font: 'bold 14px ' + TITLE_FONT, fill: '#111', align: 'center', verticalAlign: 'middle'}, z: 11},
      {type: 'text', x: 703, y: 37, style: {text: panelTitles[1], font: 'bold 14px ' + TITLE_FONT, fill: '#111', align: 'center', verticalAlign: 'middle'}, z: 11},
      {type: 'text', x: 425, y: 476, style: {text: 'Alter [Jahren]', font: 'bold 15px ' + TITLE_FONT, fill: '#111', align: 'center', verticalAlign: 'middle'}},
      {type: 'text', x: 20, y: 238, rotation: Math.PI / 2, style: {text: 'Laterale Wurzelverstärkung [kN/m]', font: 'bold 15px ' + TITLE_FONT, fill: '#111', align: 'center', verticalAlign: 'middle'}}
    ]
  )
});
</script>
</body></html>
